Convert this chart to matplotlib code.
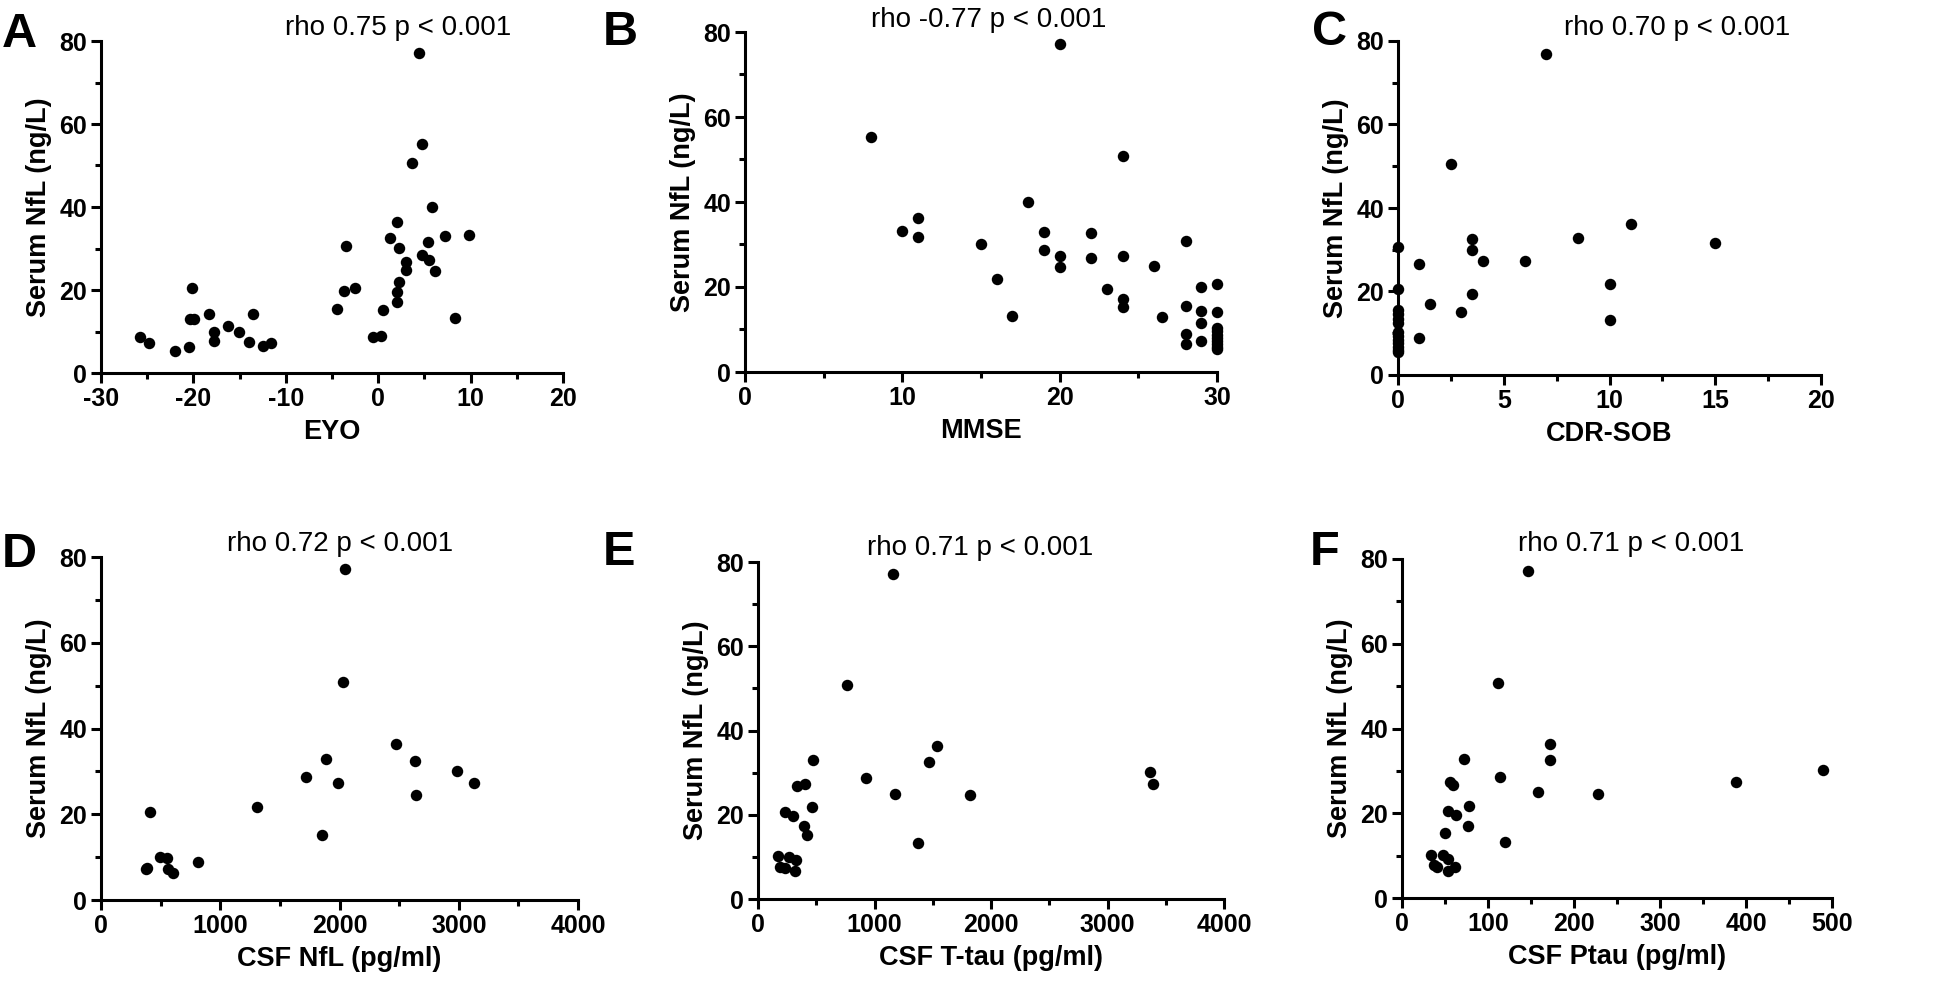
import numpy as np
import matplotlib.pyplot as plt
from matplotlib.ticker import MultipleLocator

plt.rcParams['font.family'] = ['Liberation Sans', 'DejaVu Sans']
plt.rcParams['axes.labelweight'] = 'bold'
plt.rcParams['axes.unicode_minus'] = False

# A: EYO vs serum NfL
eyo = [-25.8, -24.8, -22.0, -20.5, -20.1, -20.4, -19.9, -18.3, -17.8, -17.8, -16.3,
       -15.1, -14.0, -13.6, -12.5, -11.6, -4.5, -3.7, -3.5, -2.5, -0.6, 0.25, 0.5,
       1.3, 2.0, 2.0, 2.0, 2.2, 2.2, 3.0, 3.0, 3.7, 4.4, 4.7, 4.7, 5.4, 5.5, 5.8,
       6.2, 7.2, 8.3, 9.8]
nfl_eyo = [8.7, 7.2, 5.4, 6.3, 20.5, 12.9, 12.9, 14.1, 10.0, 7.7, 11.4,
           9.9, 7.5, 14.2, 6.4, 7.2, 15.4, 19.7, 30.6, 20.5, 8.7, 9.0, 15.2,
           32.5, 36.3, 19.5, 17.0, 21.9, 30.1, 26.8, 24.8, 50.7, 77.2, 55.3, 28.5, 31.6, 27.3, 40.0,
           24.5, 32.9, 13.2, 33.2]

# B: MMSE
mmse = [8, 10, 11, 11, 15, 16, 17, 18, 19, 19, 20, 20, 20, 22, 22, 23, 24, 24, 24, 24,
        26, 26.5, 28, 28, 28, 28, 29, 29, 29, 29,
        30, 30, 30, 30, 30, 30, 30, 30, 30, 30]
nfl_mmse = [55.4, 33.2, 36.3, 31.7, 30.1, 21.9, 13.2, 40.1, 33.0, 28.7, 77.2, 27.4, 24.6,
            32.6, 26.8, 19.6, 50.8, 27.4, 17.2, 15.3,
            25.0, 12.9, 30.9, 15.5, 9.0, 6.5, 19.9, 14.4, 11.6, 7.4,
            20.7, 14.1, 10.4, 9.6, 8.8, 8.0, 7.2, 6.5, 5.8, 5.3]

# C: CDR-SOB
cdr = [7.0, 2.5, 11.0, 8.5, 15.0, 3.5, 3.5, 4.0, 6.0, 1.0, 0, 0, 10.0, 3.5, 1.5, 3.0,
       10.0, 1.0, 0, 0, 0, 0, 0, 0, 0, 0, 0, 0, 0]
nfl_cdr = [77.0, 50.6, 36.2, 32.9, 31.6, 32.5, 30.0, 27.4, 27.4, 26.7, 30.6, 20.5, 21.8,
           19.5, 17.0, 15.2, 13.2, 8.9, 15.6, 14.6, 13.4, 12.4, 10.2, 9.4, 8.5, 7.6, 6.8,
           6.0, 5.4]

# D: CSF NfL
csf_nfl = [2045, 2028, 2470, 1888, 2629, 2985, 1720, 1989, 3130, 2638, 1306, 1852,
           411, 498, 557, 817, 389, 378, 565, 601]
nfl_csfnfl = [77.2, 50.8, 36.3, 32.8, 32.5, 30.1, 28.6, 27.2, 27.3, 24.5, 21.8, 15.2,
              20.5, 10.0, 9.8, 8.9, 7.5, 7.2, 7.2, 6.4]

# E: CSF T-tau
ttau = [1163, 763, 1534, 1471, 471, 929, 1180, 1820, 1377, 3369, 3391, 334, 400, 466,
        229, 300, 397, 423, 171, 263, 329, 191, 229, 320]
nfl_ttau = [77.1, 50.8, 36.3, 32.6, 33.0, 28.7, 25.0, 24.7, 13.3, 30.2, 27.4, 26.9, 27.4,
            21.9, 20.6, 19.8, 17.3, 15.3, 10.2, 10.0, 9.2, 7.7, 7.4, 6.6]

# F: CSF Ptau
ptau = [147, 112, 172, 172, 72, 114, 158, 228, 120, 388, 490, 56, 59, 78, 54, 63, 77,
        50, 34, 48, 53, 37, 41, 54, 62]
nfl_ptau = [77.1, 50.8, 36.4, 32.6, 32.9, 28.6, 25.0, 24.6, 13.1, 27.3, 30.2, 27.3, 26.7,
            21.8, 20.6, 19.7, 17.1, 15.3, 10.2, 10.1, 9.2, 7.7, 7.2, 6.4, 7.3]

letters = ['A', 'B', 'C', 'D', 'E', 'F']
titles = ['rho 0.75 p < 0.001', 'rho -0.77 p < 0.001', 'rho 0.70 p < 0.001',
          'rho 0.72 p < 0.001', 'rho 0.71 p < 0.001', 'rho 0.71 p < 0.001']
xlabels = ['EYO', 'MMSE', 'CDR-SOB', 'CSF NfL (pg/ml)', 'CSF T-tau (pg/ml)',
           'CSF Ptau (pg/ml)']

W, H = 1946, 988
fig = plt.figure(figsize=(W / 100, H / 100), dpi=100)


def box(l, r, t, b):
    return [l / W, 1 - b / H, (r - l) / W, (b - t) / H]


# axes boxes in pixels: left, right, top, bottom
boxes = [(101, 563, 41, 373), (745, 1217, 32, 372), (1398, 1821, 41, 375),
         (101, 578, 557, 900), (758, 1224, 562, 899), (1402, 1832, 559, 898)]
xs = [eyo, mmse, cdr, csf_nfl, ttau, ptau]
ys = [nfl_eyo, nfl_mmse, nfl_cdr, nfl_csfnfl, nfl_ttau, nfl_ptau]
xlims = [(-30, 20), (0, 30), (0, 20), (0, 4000), (0, 4000), (0, 500)]
xmaj = [10, 10, 5, 1000, 1000, 100]
# title centre x, baseline y (pixels)
title_pos = [(398, 35), (989, 27), (1677, 35), (340, 551), (980, 555), (1631, 551)]
letter_pos = [(2, 47), (603, 45), (1312, 45), (2, 567), (603, 565), (1310, 565)]
yticks = [0, 20, 40, 60, 80]

for i in range(6):
    ax = fig.add_axes(box(*boxes[i]))
    ax.scatter(xs[i], ys[i], s=68, c='black', linewidths=0, clip_on=False, zorder=3)
    lo, hi = xlims[i]
    xt = np.arange(lo, hi + xmaj[i] / 2, xmaj[i])
    ax.set_xticks(xt)
    ax.set_xticklabels([str(int(v)) for v in xt], fontweight='bold')
    ax.set_yticks(yticks)
    ax.set_yticklabels([str(v) for v in yticks], fontweight='bold')
    ax.xaxis.set_minor_locator(MultipleLocator(xmaj[i] / 2))
    ax.yaxis.set_minor_locator(MultipleLocator(10))
    ax.set_xlim(lo, hi)
    ax.set_ylim(0, 80)
    for s in ['top', 'right']:
        ax.spines[s].set_visible(False)
    for s in ['left', 'bottom']:
        ax.spines[s].set_linewidth(2.2)
    ax.tick_params(which='major', length=7, width=2.2, labelsize=18, pad=3)
    ax.tick_params(which='minor', length=4, width=2.2)
    ax.set_xlabel(xlabels[i], fontsize=19.5, fontweight='bold', labelpad=6)
    ax.set_ylabel('Serum NfL (ng/L)', fontsize=19.5, fontweight='bold', labelpad=5)

    tx, ty = title_pos[i]
    fig.text(tx / W, 1 - ty / H, titles[i], fontsize=20, fontweight='normal',
             ha='center', va='baseline')
    lx, ly = letter_pos[i]
    fig.text(lx / W, 1 - ly / H, letters[i], fontsize=35, fontweight='bold',
             ha='left', va='baseline')

fig.savefig('out.png', dpi=100)
